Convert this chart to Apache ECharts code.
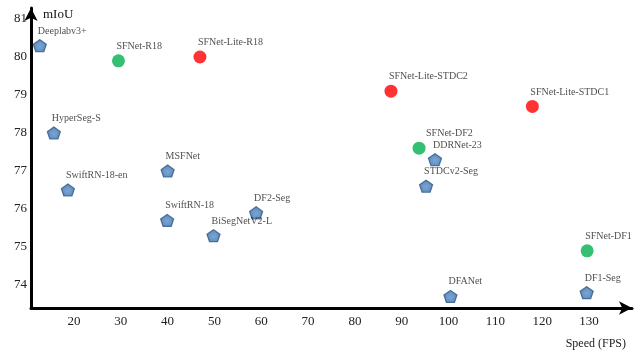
<!DOCTYPE html>
<html>
<head>
<meta charset="utf-8">
<title>mIoU vs Speed</title>
<script src="https://cdn.jsdelivr.net/npm/echarts@6/dist/echarts.min.js"></script>
<style>
    html, body { margin: 0; padding: 0; background: #fff; }
    #chart { width: 640px; height: 352px; }
</style>
</head>
<body>
<div id="chart"></div>
<script>
// tick labels
const xTicks = [20, 30, 40, 50, 60, 70, 80, 90, 100, 110, 120, 130];
const yTicks = [74, 75, 76, 77, 78, 79, 80, 81];

// other methods (blue pentagons)
const otherNames = ["Deeplabv3+", "HyperSeg-S", "SwiftRN-18-en", "MSFNet", "SwiftRN-18", "BiSegNetV2-L", "DF2-Seg", "STDCv2-Seg", "DDRNet-23", "DFANet", "DF1-Seg"];
const otherFps = [12.7, 15.7, 18.7, 40.0, 39.9, 49.8, 58.9, 95.2, 97.1, 100.4, 129.5];
const otherMiou = [80.3, 78.0, 76.5, 77.0, 75.7, 75.3, 75.9, 76.6, 77.3, 73.7, 73.8];

// SFNet (green)
const sfnetNames = ["SFNet-R18", "SFNet-DF2", "SFNet-DF1"];
const sfnetFps = [29.5, 93.7, 129.6];
const sfnetMiou = [79.9, 77.6, 74.9];

// SFNet-Lite (red)
const liteNames = ["SFNet-Lite-R18", "SFNet-Lite-STDC2", "SFNet-Lite-STDC1"];
const liteFps = [46.9, 87.7, 117.9];
const liteMiou = [80.0, 79.1, 78.7];

const serif = "'Liberation Serif', 'DejaVu Serif', serif";
const pentagon = "path://M50,0 L97.55,34.55 L79.39,90.45 L20.61,90.45 L2.45,34.55 Z";

// 个别标签的水平微调
const labelNudge = { "SFNet-DF2": 9 };

function toPoints(names, xs, ys) {
    return names.map((n, i) => ({
        name: n,
        value: [xs[i], ys[i]],
        label: { offset: [(labelNudge[n] || 0) - 2, 0] },
    }));
}

const labelStyle = {
    show: true,
    position: "top",
    distance: 3,
    align: "left",
    formatter: "{b}",
    fontFamily: serif,
    fontSize: 10,
    color: "#222",
};

const chart = echarts.init(document.getElementById("chart"));
chart.setOption({
    animation: false,
    backgroundColor: "#fff",
    grid: { left: 31, right: 8, top: 8, bottom: 44 },
    xAxis: {
        type: "value",
        min: 10.82,
        max: 139.18,
        name: "Speed (FPS)",
        nameLocation: "end",
        nameGap: -6,
        nameTextStyle: {
            fontFamily: serif, fontSize: 12, color: "#222",
            align: "right", verticalAlign: "top", padding: [30, 0, 0, 0],
        },
        axisLine: {
            lineStyle: { color: "#000", width: 3 },
            symbol: ["none", "arrow"],
            symbolSize: [10, 13],
        },
        axisTick: { show: false },
        splitLine: { show: false },
        axisLabel: {
            customValues: xTicks,
            margin: 7,
            fontFamily: serif, fontSize: 13, color: "#222",
        },
    },
    yAxis: {
        type: "value",
        min: 73.395,
        max: 81.29,
        name: "mIoU",
        nameLocation: "end",
        nameGap: -7,
        nameTextStyle: {
            fontFamily: serif, fontSize: 13, color: "#111",
            align: "left", verticalAlign: "middle", padding: [0, 0, 0, 12],
        },
        axisLine: {
            lineStyle: { color: "#000", width: 3 },
            symbol: ["none", "arrow"],
            symbolSize: [10, 13],
        },
        axisTick: { show: false },
        splitLine: { show: false },
        axisLabel: {
            customValues: yTicks,
            margin: 17,
            align: "left",
            fontFamily: serif, fontSize: 13, color: "#222",
        },
    },
    series: [
        {
            name: "others",
            type: "scatter",
            symbol: pentagon,
            symbolSize: [13, 12],
            itemStyle: {
                color: {
                    type: "radial", x: 0.5, y: 0.55, r: 0.5,
                    colorStops: [
                        { offset: 0, color: "#5790cc" },
                        { offset: 1, color: "#3a6ca4" },
                    ],
                },
                borderColor: "#2b5889",
                borderWidth: 1.2,
            },
            label: labelStyle,
            data: toPoints(otherNames, otherFps, otherMiou),
        },
        {
            name: "SFNet",
            type: "scatter",
            symbol: "circle",
            symbolSize: 13,
            itemStyle: { color: "#00b050" },
            label: labelStyle,
            data: toPoints(sfnetNames, sfnetFps, sfnetMiou),
        },
        {
            name: "SFNet-Lite",
            type: "scatter",
            symbol: "circle",
            symbolSize: 13,
            itemStyle: { color: "#ff0000" },
            label: labelStyle,
            data: toPoints(liteNames, liteFps, liteMiou),
        },
    ],
});
</script>
</body>
</html>
